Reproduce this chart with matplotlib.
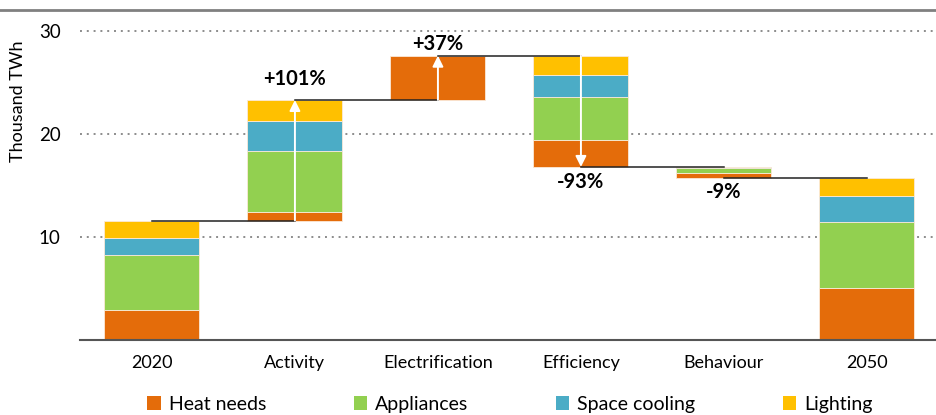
import matplotlib.pyplot as plt
import numpy as np
from matplotlib.lines import Line2D
from matplotlib.patches import Patch

plt.rcParams['font.family'] = ['Lato', 'DejaVu Sans']

# Waterfall steps, thousand TWh
steps = ["2020", "Activity", "Electrification", "Efficiency", "Behaviour", "2050"]
heat_needs = [2.9, 0.85, 4.3, -2.6, -0.45, 5.0]
appliances = [5.35, 5.85, 0.0, -4.2, -0.5, 6.5]
space_cooling = [1.7, 3.0, 0.0, -2.15, -0.05, 2.5]
lighting = [1.65, 2.0, 0.0, -1.85, -0.05, 1.75]
step_labels = ["", "+101%", "+37%", "-93%", "-9%", ""]

components = ["Heat needs", "Appliances", "Space cooling", "Lighting"]
colors = ["#E46C0A", "#92D050", "#4BACC6", "#FFC000"]

series = np.array([heat_needs, appliances, space_cooling, lighting])
change = series.sum(axis=0)

fig = plt.figure(figsize=(9.37, 4.15), dpi=100)
ax = fig.add_axes([80 / 937, 1 - 340 / 415, 855 / 937, 325 / 415])

x = np.arange(len(steps))
width = 0.664

# running level before/after each step
level = 0.0
starts, ends = [], []
for i in range(len(steps)):
    if i == 0 or i == len(steps) - 1:
        start, end = 0.0, change[i]
    else:
        start, end = level, level + change[i]
    starts.append(start)
    ends.append(end)
    level = end

for i in range(len(steps)):
    base = min(starts[i], ends[i])
    for k in range(4):
        h = abs(series[k, i])
        if h == 0:
            continue
        ax.bar(x[i], h, width, bottom=base, color=colors[k],
               edgecolor="#fbe9d8", linewidth=0.6, zorder=2)
        base += h

# connectors between bar centres
for i in range(len(steps) - 1):
    ax.plot([x[i], x[i + 1]], [ends[i], ends[i]], color="#222222", lw=1.1, zorder=3)

# white arrows and percentage labels on the middle steps
label_offsets = [0, 8, 1, -4, -3, 0]
for i in range(1, len(steps) - 1):
    s, e = starts[i], ends[i]
    if abs(e - s) > 2:
        ax.annotate("", xy=(x[i], e), xytext=(x[i], s),
                    arrowprops=dict(arrowstyle="-|>", color="white", lw=1.4,
                                    mutation_scale=16, shrinkA=0, shrinkB=0),
                    zorder=4)
    ax.annotate(step_labels[i], (x[i], e), xytext=(0, label_offsets[i]),
                textcoords="offset points", ha="center",
                va="bottom" if e > s else "top", fontsize=14.5, fontweight="bold")

ax.set_xlim(-0.503, 5.476)
ax.set_ylim(0, 31.55)
ax.set_yticks([10, 20, 30])
ax.set_xticks(x)
ax.set_xticklabels(steps, fontsize=13)
ax.tick_params(axis="y", length=0, pad=14, labelsize=13.5)
ax.tick_params(axis="x", length=0, pad=11)
ax.set_ylabel("Thousand TWh", fontsize=13)
ax.yaxis.set_label_coords(-54 / 855, (340 - 101) / 325)
ax.grid(axis="y", color="#8c8c8c", linestyle=(0, (1, 2.5)), lw=1.4, zorder=0)
for side in ["top", "right", "left"]:
    ax.spines[side].set_visible(False)
ax.spines["bottom"].set_color("#555555")
ax.spines["bottom"].set_linewidth(1.5)

handles = [Patch(facecolor=c, edgecolor="none") for c in colors]
fig.legend(handles, components, loc="center", bbox_to_anchor=(510 / 937, 1 - 404 / 415),
           ncol=4, frameon=False, fontsize=14, handlelength=0.7, handleheight=0.7,
           handletextpad=0.4, columnspacing=4.5)

fig.add_artist(Line2D([0, 1], [1 - 10 / 415] * 2, color="#808080", lw=2))

fig.savefig("out.png", dpi=100)
